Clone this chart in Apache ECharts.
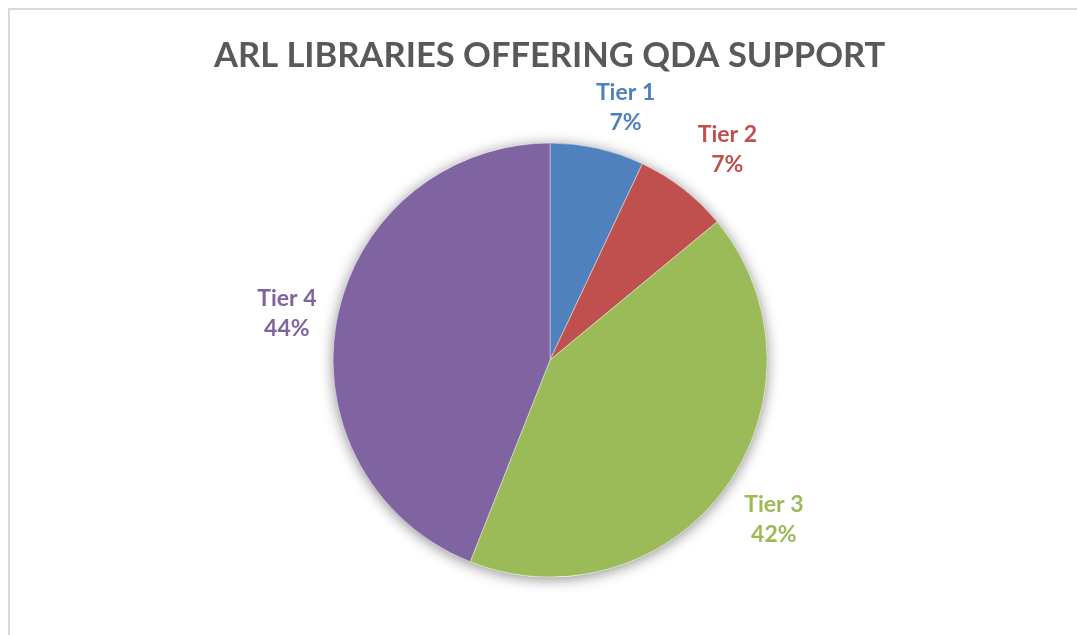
<!DOCTYPE html>
<html>
<head>
<meta charset="utf-8">
<script src="https://cdn.jsdelivr.net/npm/echarts@6/dist/echarts.min.js"></script>
<style>
html,body{margin:0;padding:0;background:#fff;}
#chart{width:1077px;height:635px;}
</style>
</head>
<body>
<div id="chart"></div>
<script>
const titleText = 'ARL LIBRARIES OFFERING QDA SUPPORT';
const categories = ['Tier 1', 'Tier 2', 'Tier 3', 'Tier 4'];
const values = [7, 7, 42, 44];
const colors = ['#4F81BD', '#C0504D', '#9BBB59', '#8064A2'];
const labelOffsets = [[16, 14], [10, 5], [3, -1], [5, 5]];

const chart = echarts.init(document.getElementById('chart'), null, {renderer: 'canvas'});
const center = ['51.07%', '56.7%'];
const fontFamily = 'Lato, "Open Sans", sans-serif';

const pieData = categories.map((c, i) => ({
  name: c, value: values[i], itemStyle: {color: colors[i]}
}));
const labelData = categories.map((c, i) => ({
  name: c, value: values[i],
  itemStyle: {color: 'rgba(0,0,0,0)'},
  label: {color: colors[i], offset: labelOffsets[i]}
}));

chart.setOption({
  backgroundColor: '#ffffff',
  animation: false,
  title: {
    text: titleText,
    left: 209,
    top: 33,
    textStyle: {fontFamily: fontFamily, fontWeight: 'bold', fontSize: 34.5, color: '#595959'}
  },
  graphic: [{
    type: 'rect',
    shape: {x: 9, y: 9, width: 1200, height: 800},
    style: {fill: 'none', stroke: '#d9d9d9', lineWidth: 2},
    silent: true, z: -10
  }],
  series: [
    {
      type: 'pie', name: 'shadow', center: center, radius: 217,
      silent: true, z: 1,
      label: {show: false}, labelLine: {show: false},
      data: [{value: 1, itemStyle: {color: '#ffffff', shadowBlur: 14, shadowColor: 'rgba(0,0,0,0.45)', shadowOffsetX: 0, shadowOffsetY: 2}}]
    },
    {
      type: 'pie', name: 'main', center: center, radius: 217,
      startAngle: 90, clockwise: true, z: 2,
      label: {show: false}, labelLine: {show: false},
      itemStyle: {borderColor: 'rgba(255,255,255,0.5)', borderWidth: 0.8},
      emphasis: {disabled: true},
      data: pieData
    },
    {
      type: 'pie', name: 'labels', center: center, radius: [262, 278],
      startAngle: 90, clockwise: true, silent: true, z: 3,
      labelLine: {show: false},
      label: {
        show: true, position: 'inside',
        fontFamily: fontFamily, fontWeight: 'bold', fontSize: 23, lineHeight: 30,
        formatter: p => p.name + '\n' + Math.round(p.percent) + '%'
      },
      emphasis: {disabled: true},
      data: labelData
    }
  ]
});
</script>
</body>
</html>
